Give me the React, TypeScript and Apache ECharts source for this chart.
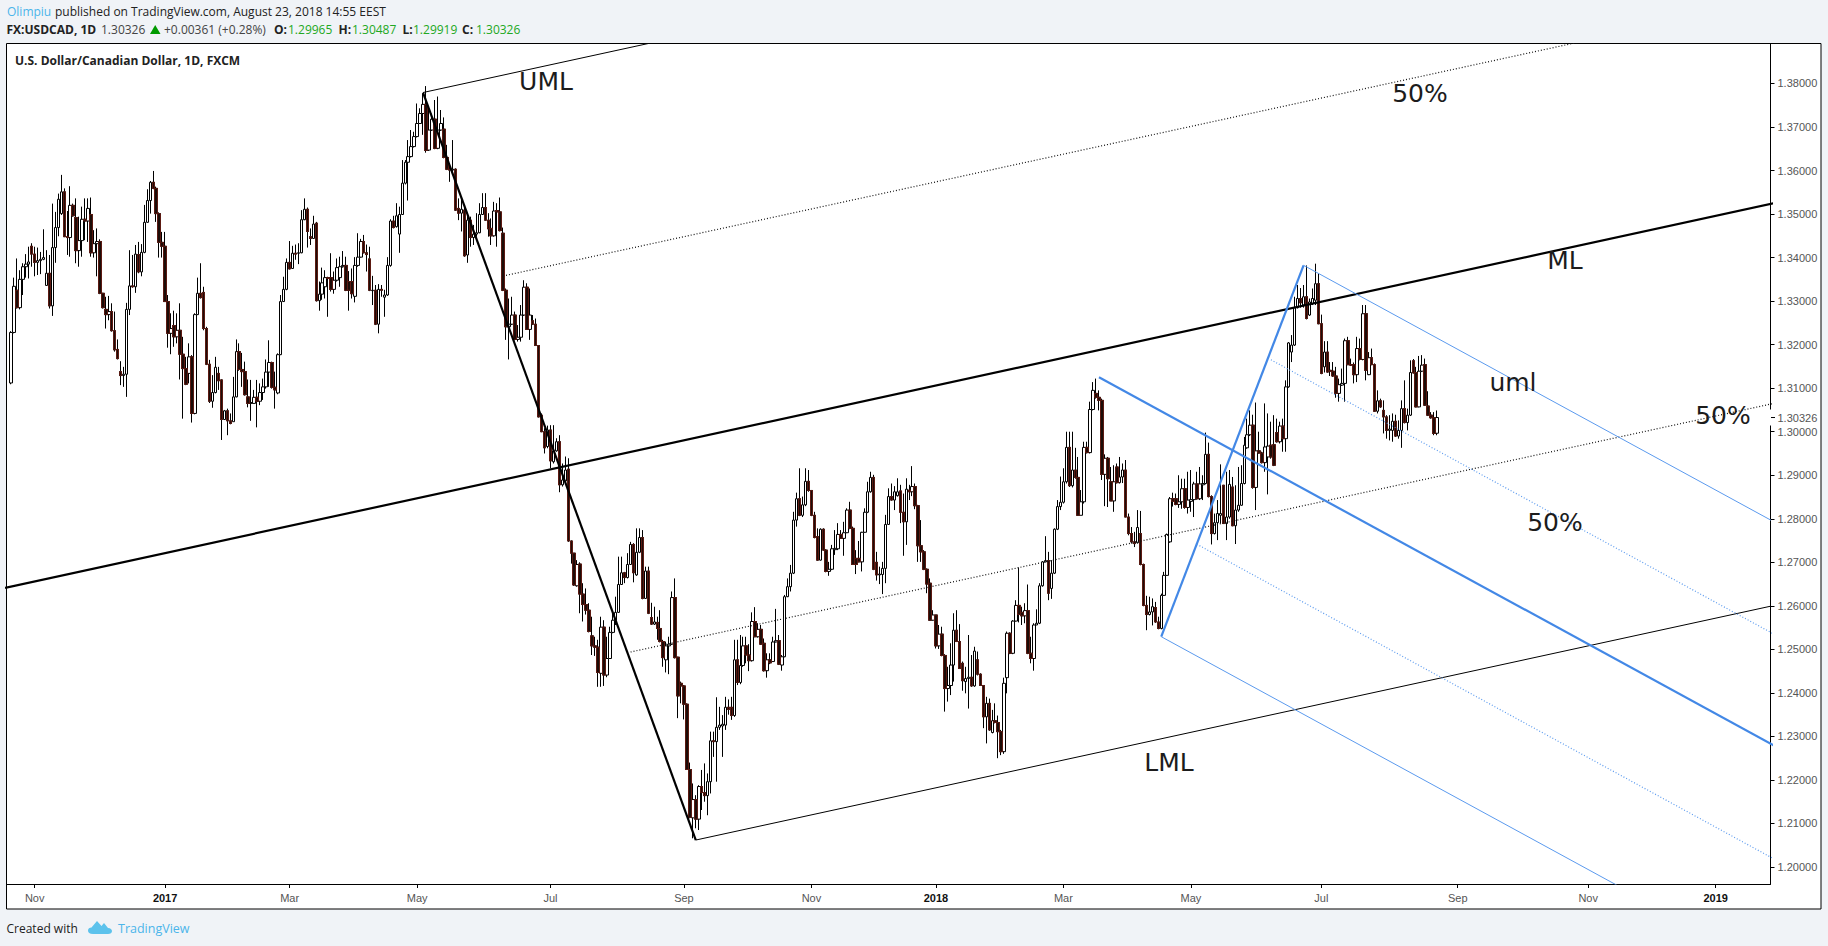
import React, { useEffect, useRef } from "react";
import * as echarts from "echarts";

// OHLC, in 1/10000 of a price unit: open, close, high, low per bar
const barsA = [
13112,13228,13231,13109,13228,13334,13354,13226,13325,13285,13398,13283,13285,13350,13371,13281,13350,13379,13387,13314,13379,13385,13408,13354,13385,13390,13425,13352,13426,13408,13433,13379,13408,13389,13425,13357,13389,13393,13423,13360,13393,13396,13413,13362,13396,13400,13465,13394,13336,13364,13417,13336,13364,13289,13406,13283,13289,13423,13524,13266,13423,13469,13505,13388,13469,13534,13547,13449,13501,13551,13590,13498,13551,13448,13559,13448,13448,13446,13507,13406,13446,13520,13564,13402,13520,13496,13524,13494,13492,13416,13536,13387,13416,13439,13494,13379,13439,13488,13517,13402,13488,13484,13536,13440,13484,13513,13536,13436,13499,13411,13538,13402,13411,13432,13463,13400,13432,13437,13467,13357,13437,13318,13442,13316,13318,13285,13319,13283,13281,13269,13310,13237,13269,13276,13312,13256,13276,13232,13295,13230,13232,13188,13276,13184,13189,13168,13212,13166,13138,13129,13162,13107,13129,13132,13149,13103,13132,13281,13296,13080,13281,13335,13417,13268,13335,13333,13406,13331,13333,13408,13429,13319,13407,13367,13436,13364,13367,13412,13431,13357,13412,13481,13521,13410,13481,13531,13557,13480,13531,13573,13576,13501,13573,13559,13599,13557,13559,13501,13563,13482,13501,13435,13504,13400,13435,13426,13459,13400,13426,13299,13459,13298,13299,13226,13314,13193,13226,13237,13272,13178,13244,13218,13278,13195,13218,13233,13272,13203,13233,13178,13295,13120,13178,13145,13218,13030,13145,13109,13172,13107,13134,13172,13203,13111,13172,13042,13176,13021,13042,13269,13272,13040,13269,13318,13354,13268,13318,13308,13387,13306,13320,13237,13333,13233,13237,13155,13241,13153,13155,13070,13165,13066,13070,13090,13130,13055,13090,13148,13172,13088,13134,13117,13149,13096,13119,13028,13120,12981,13028,13048,13050,13027,13048,13025,13053,12992,13025,13019,13042,13017,13023,13080,13126,13023,13080,13184,13212,13079,13184,13143,13203,13140,13143,13138,13181,13103,13138,13085,13161,13083,13080,13065,13120,13056,13065,13067,13119,13025,13065,13079,13096,13065,13079,13070,13119,13010,13070,13090,13111,13061,13090,13103,13122,13073,13103,13137,13166,13099,13137,13159,13210,13103,13159,13102,13161,13099,13102,13096,13138,13053,13089,13177,13180,13086,13177,13299,13314,13176,13299,13327,13356,13298,13327,13389,13398,13325,13389,13374,13438,13373,13375,13410,13427,13375,
13410,13408,13430,13395];
const barsB = [
13410,13411,13433,13385,13411,13487,13509,13410,13487,13511,13536,13486,13511,13460,13515,13423,13448,13444,13467,13429,13444,13477,13496,13443,13479,13301,13482,13299,13301,13316,13345,13278,13316,13342,13377,13303,13333,13354,13371,13306,13354,13352,13356,13264,13354,13327,13410,13322,13327,13348,13368,13317,13348,13377,13398,13345,13354,13379,13402,13333,13379,13382,13415,13377,13382,13325,13402,13323,13345,13325,13369,13278,13345,13317,13375,13306,13311,13382,13401,13297,13382,13401,13456,13379,13401,13437,13443,13400,13437,13411,13452,13410,13411,13407,13430,13368,13397,13325,13425,13323,13324,13325,13358,13291,13325,13247,13337,13245,13247,13327,13339,13226,13327,13325,13337,13310,13309,13314,13326,13264,13314,13382,13401,13312,13382,13484,13488,13379,13484,13469,13496,13467,13471,13496,13525,13469,13454,13499,13517,13411,13499,13571,13624,13498,13571,13619,13624,13568,13619,13632,13670,13531,13632,13655,13693,13630,13655,13678,13689,13653,13678,13708,13754,13676,13708,13731,13743,13707,13731,13752,13777,13682,13752,13646,13794,13641,13647,13693,13743,13645,13693,13718,13731,13691,13718,13651,13762,13649,13651,13693,13770,13649,13693,13708,13739,13691,13695,13630,13722,13628,13630,13603,13659,13601,13603,13601,13617,13574,13601,13603,13670,13597,13603,13509,13605,13507,13513,13502,13536,13486,13502,13511,13540,13460,13509,13404,13521,13402,13406,13486,13502,13388,13486,13446,13494,13425,13446,13454,13475,13429,13454,13457,13502,13448,13457,13499,13525,13456,13499,13515,13548,13498,13515,13486,13548,13485,13486,13466,13502,13448,13467,13450,13490,13429,13450,13507,13528,13448,13508,13505,13525,13425,13505,13462,13538,13460,13456,13325,13469,13323,13325,13241,13329,13211,13241,13247,13306,13166,13247,13268,13310,13245,13268,13212,13276,13210,13212,13217,13245,13207,13217,13268,13291,13207,13268,13332,13348,13266,13332,13235,13341,13234,13235,13268,13329,13211,13255,13247,13268,13245,13247,13198,13260,13197,13198,13034,13199,13033,13038,13000,13042,12999,13000,12963,13008,12950,12966,13004,13014,12962,13004,12933,13015,12916,12931,12956,13015,12927,12956,12977,12985,12954,12977,12878,12992,12861,12878,12889,12927,12874,12887,12912,12943,12885,12914,12749,12939,12747,12749,12721,12750,12697,12721,12648,12721,12646,12646,12695,12705,12644];
const barsC = [
12696,12627,12700,12583,12627,12603,12652,12564,12603,12590,12640,12580,12590,12541,12606,12539,12531,12508,12575,12487,12508,12505,12529,12485,12505,12447,12522,12414,12445,12551,12575,12414,12551,12441,12567,12416,12441,12479,12529,12436,12479,12539,12552,12478,12539,12567,12590,12537,12567,12585,12621,12556,12585,12649,12713,12584,12649,12676,12713,12648,12676,12665,12678,12652,12665,12695,12721,12663,12695,12741,12747,12694,12741,12676,12744,12654,12671,12723,12778,12669,12723,12757,12778,12721,12757,12617,12774,12615,12617,12680,12690,12616,12680,12583,12690,12581,12573,12558,12607,12556,12558,12563,12598,12556,12562,12548,12575,12522,12548,12518,12590,12516,12518,12481,12522,12460,12476,12508,12518,12447,12508,12512,12529,12443,12512,12619,12633,12510,12619,12481,12663,12479,12482,12393,12483,12342,12422,12416,12426,12376,12416,12374,12418,12339,12374,12224,12376,12223,12224,12114,12240,12112,12113,12155,12192,12066,12155,12110,12165,12089,12110,12185,12188,12085,12185,12171,12223,12131,12171,12164,12238,12150,12164,12196,12215,12119,12196,12290,12311,12169,12290,12288,12311,12253,12288,12321,12390,12196,12321,12326,12368,12315,12324,12328,12349,12253,12326,12367,12391,12315,
12367,12362,12385,12350,12367,12348,12391,12338,12348,12476,12522,12345,12476,12424,12522,12418,12424,12463,12533,12420,12463,12508,12529,12460,12508,12487,12529,12468,12487,12474,12512,12450,12474,12564,12585,12472,12564,12529,12597,12528,12529,12546,12560,12527,12546,12512,12556,12510,12514,12451,12525,12449,12451,12476,12491,12435,12476,12469,12491,12466,12472,12517,12529,12472,12517,12520,12593,12516,12520,12466,12533,12464,12464,12483,12487,12451,12483,12621,12625,12482,12621,12644,12663,12620,12644,12675,12694,12633,12675,12797,12816,12673,12797,12846,12860,12782,12846,12808,12916,12806,12808,12832,12851,12804,12832,12886,12916,12829,12886,12865,12912,12862,12865,12808,12866,12806,12808,12757,12816,12755,12759,12705,12778,12704,12705,12776,12778,12704,12776,12728,12778,12727,12728,12679,12730,12677,12679,12684,12701,12669,12684,12731,12740,12682,12729,12732,12774,12717,12731,12764,12790,12728,12764,12755,12774,12754,12755,12768,12793,12715,12768,12820,12824,12767,12820,12778,12839,12776,12778,12695,12782,12694,12709,12695,12728,12673,12709,12701,12749,12700,12701,12769,12770,12679,12769,12815,12824,12768,12815,12862,12885,12813,12862,12895,12908,12860,12895,12684,12901,12682,12700,12671,12724,12658,
12671,12673,12690,12650];
const barsD = [
12672,12686,12701,12627,12686,12787,12809,12652,12787,12851,12870,12786,12851,12843,12881,12842,12843,12862,12875,12820,12853,12862,12893,12851,12864,12815,12878,12790,12815,12793,12858,12715,12793,12868,12893,12740,12866,12862,12878,12843,12862,12874,12921,12852,12874,12830,12881,12822,12830,12738,12832,12701,12738,12724,12797,12701,12724,12684,12728,12682,12684,12650,12686,12629,12652,12567,12663,12566,12567,12579,12590,12566,12579,12508,12579,12502,12508,12535,12556,12501,12535,12486,12552,12484,12486,12410,12489,12357,12410,12417,12460,12380,12417,12464,12514,12395,12464,12544,12583,12426,12544,12518,12590,12517,12518,12456,12558,12455,12468,12428,12472,12405,12426,12433,12460,12399,12433,12436,12533,12364,12436,12416,12487,12414,12416,12496,12506,12414,12476,12443,12495,12440,12443,12417,12445,12416,12417,12345,12418,12319,12345,12376,12391,12284,12376,12315,12387,12313,12309,12336,12361,12307,12336,12332,12376,12330,12332,12311,12348,12250,12311,12265,12315,12257,12265,12422,12435,12260,12435,12537,12541,12399,12537,12491,12539,12489,12491,12565,12567,12489,12565,12601,12613,12564,12601,12580,12688,12562,12585,12577,12598,12556,12577,12589,12606,12560,12589,12491,12649,12489,12491,12479,12529,12468,12479,12556,12560,12451,12556,12560,12592,12556,12560,12646,12652,12558,12646,12701,12703,12644,12701,12704,12760,12700,12704,12629,12724,12613,12640,12675,12705,12616,12675,12776,12778,12673,12776,12828,12843,12774,12828,12838,12897,12820,12838,12885,12916,12835];
const barsE = [
12885,12964,13000,12881,12964,12876,13000,12873,12876,12912,13000,12872,12912,12895,12963,12892,12895,12808,12942,12807,12808,12839,12866,12808,12839,12964,12977,12835,12964,12952,12977,12950,12952,13051,13069,12950,13051,13095,13114,13049,13088,13079,13122,13076,13079,13072,13095,13049,13072,12902,13076,12889,12902,12939,12948,12829,12939,12892,12942,12827,12885,12841,12919,12841,12841,12885,12923,12816,12919,12883,12927,12881,12883,12896,12942,12881,12896,12912,12927,12882,12912,12804,12935,12804,12804,12766,12812,12762,12766,12747,12781,12743,12747,12743,12770,12735,12745,12780,12820,12743,12766,12695,12818,12693,12695,12601,12697,12599,12601,12580,12623,12544,12580,12586,12621,12578,12586,12598,12617,12555,12596,12563,12609,12561,12563,12548,12575,12546,12548,12624,12628,12546,12624,12670,12678,12623,12670,12764,12766,12669,12747,12846,12850,12745,
12846,12840,12860,12828];
const barsF = [
12846,12833,12858,12831,12833,12839,12900,12825,12839,12869,12892,12823,12869,12826,12892,12823,12826,12843,12908,12812,12840,12844,12912,12816,12844,12880,12885,12804,12880,12846,12908,12844,12846,12880,12919,12843,12878,12881,12900,12843,12881,12948,12998,12879,12948,12851,12975,12849,12851,12766,12854,12741,12766,12791,12812,12764,12791,12812,12843,12751,12808,12812,12925,12789,12877,12789,12877,12788,12789,12804,12908,12751,12804,12879,12912,12800,12873,12784,12896,12783,12784,12820,12877,12742,12820,12831,12919,12816,12831,12881,12923,12830,12881,12969,12988,12879,12963,12993,13030,12961,12993,13015,13049,12990,13015,12872,13039,12869,12872,12956,13067,12820,12956,12951,13000,12950,12951,12929,12954,12927,12929,12965,13065,12908,12942,12967,13042,12856,12969,12942,13023,12938,12970,12923,13038,12921,12998,12977,13030,12975,12977,13013,13023,12973,13013,12984,13030,12954,12984,13103,13118,12954,13103,13204,13206,13101,13183,13199,13222,13160,13199,13285,13310,13197,13285,13306,13337,13283,
13306,13296,13330,13285];
const barsG = [
13291,13310,13337,13285,13310,13260,13382,13258,13268,13298,13306,13266,13294,13306,13329,13291,13302,13340,13386,13291,13340,13248,13363,13247,13248,13134,13269,13132,13149,13183,13208,13136,13183,13137,13208,13136,13141,13139,13160,13128,13139,13128,13160,13126,13128,13088,13149,13078,13088,13108,13122,13069,13107,13111,13145,13105,13111,13209,13214,13069,13209,13154,13218,13153,13154,13153,13168,13151,13154,13131,13159,13111,13131,13191,13218,13114,13191,13166,13214,13164,13166,13271,13291,13164,13271,13141,13291,13118,13131,13170,13183,13130,13170,13154,13191,13153,13154,13047,13157,13046,13047,13071,13095,13042,13071,13057,13076,13055,13049,13034,13072,12996,13034,13003,13038,12984,13003,13006,13038,12980,13003,13024,13042,12977,13024,12990,13039,12988,12990,13003,13026,12984,13003,13053,13072,12963,13053,13021,13118,13019,13021,13038,13053,13003,13038,13136,13164,13036,13163,13135,13167,13134,13136,13057,13149,13056,13057,13139,13174,13056,13139,13153,13176,13137,13154,13061,13168,13059,13059,13038,13093,13036,13038,13032,13045,13030,13032,12996,13045,12992,12996.5,13032.6,13048.7,12991.9];

const slotCount = 595;
const firstBarSlot = 1;
const tickSlots = [9, 53, 95, 138, 183, 228, 271, 313, 356, 399, 443, 489, 533, 576];
const tickTexts = ["Nov", "2017", "Mar", "May", "Jul", "Sep", "Nov", "2018", "Mar", "May", "Jul", "Sep", "Nov", "2019"];
const priceTicks = [1.2, 1.21, 1.22, 1.23, 1.24, 1.25, 1.26, 1.27, 1.28, 1.29, 1.3, 1.31, 1.32, 1.33, 1.34, 1.35, 1.36, 1.37, 1.38];
const lastClose = 1.30326;
const priceMin = 1.1961;
const priceMax = 1.38918;

// drawing anchors: [bar slot, price]
const handleBlack = [[140, 1.37792], [232, 1.2062]];
const medianBlack = [[-1, 1.26412], [597, 1.3527]];
const upperBlack = [[140, 1.37792], [240, 1.39274]];
const lowerBlack = [[232, 1.2062], [597, 1.26028]];
const upperHalfBlack = [[167, 1.33577], [545, 1.39175]];
const lowerHalfBlack = [[210, 1.24939], [597, 1.30671]];
const handleBlue = [[437, 1.33823], [389, 1.25291]];
const medianBlue = [[368, 1.3125], [597, 1.22743]];
const upperBlue = [[437, 1.33823], [597, 1.2788]];
const lowerBlue = [[389, 1.25291], [597, 1.17565]];
const upperHalfBlue = [[426, 1.31652], [597, 1.253]];
const lowerHalfBlue = [[401, 1.27416], [597, 1.20136]];

const logoPath =
  "M5 14 C1.5 14 0 12.5 0 10.5 C0 8.5 1.5 7.5 3.5 7.5 L9 1 L13.5 6 L16 3 L20 8 C22.5 8 24 9.5 24 11 C24 12.8 22.5 14 20 14 Z";

const uiFont = '"Open Sans", sans-serif';
const axisFont = '"Liberation Sans", Arial, sans-serif';
const noteFont = '"DejaVu Sans", sans-serif';

function toRows(flat: number[]) {
  const rows: number[][] = [];
  for (let k = 0; k < flat.length; k += 4) {
    rows.push([flat[k] / 10000, flat[k + 1] / 10000, flat[k + 3] / 10000, flat[k + 2] / 10000]);
  }
  return rows;
}

function lineSeries(data: number[][], color: string, width: number, type: any = "solid") {
  return {
    type: "line",
    data,
    symbol: "none",
    silent: true,
    z: 5,
    lineStyle: { color, width, type, cap: "butt" },
  };
}

export default function App() {
  const ref = useRef<HTMLDivElement>(null);
  useEffect(() => {
    document.body.style.margin = "0";
    const chart = echarts.init(ref.current!, undefined, { renderer: "svg", width: 1828, height: 946 });

    const rows = toRows([...barsA, ...barsB, ...barsC, ...barsD, ...barsE, ...barsF, ...barsG]);
    const candles: any[] = new Array(slotCount).fill("-");
    const downBodies: any[] = new Array(slotCount).fill("-");
    rows.forEach((r, k) => {
      const at = firstBarSlot + k;
      if (at >= slotCount) return;
      candles[at] = r;
      if (r[1] < r[0]) downBodies[at] = [r[0], r[1], r[1], r[0]];
    });

    const categories = new Array(slotCount).fill("").map((_, k) => {
      const t = tickSlots.indexOf(k);
      return t >= 0 ? tickTexts[t] : "";
    });
    const isTick = (k: number) => tickSlots.indexOf(k) >= 0;

    const note = (text: string, x: number, y: number) => ({
      type: "text",
      x,
      y,
      z: 50,
      style: { text, fill: "#1c1c1c", font: `25px ${noteFont}`, align: "center", verticalAlign: "middle" },
    });
    const head = (text: string, x: number, y: number, fill: string, bold = false) => ({
      type: "text",
      x,
      y,
      z: 50,
      style: { text, fill, font: `${bold ? "bold " : ""}12px ${uiFont}`, verticalAlign: "middle" },
    });

    const staticGraphics: any[] = [
      { type: "rect", z: -10, shape: { x: 6.5, y: 43.5, width: 1814.5, height: 865.5 }, style: { fill: "#ffffff", stroke: "#000000", lineWidth: 1 } },
      head("Olimpiu", 7, 11.5, "#4bb5ea"),
      head("published on TradingView.com, August 23, 2018 14:55 EEST", 55, 11.5, "#222222"),
      head("FX:USDCAD, 1D", 6.5, 29.5, "#222222", true),
      head("1.30326", 101, 29.5, "#444444"),
      { type: "polygon", z: 50, shape: { points: [[150, 34], [160.5, 34], [155.2, 25]] }, style: { fill: "#009a00" } },
      head("+0.00361 (+0.28%)", 164, 29.5, "#444444"),
      head("O:", 274, 29.5, "#222222", true),
      head("1.29965", 288, 29.5, "#22a822"),
      head("H:", 338.5, 29.5, "#222222", true),
      head("1.30487", 352, 29.5, "#22a822"),
      head("L:", 402.5, 29.5, "#222222", true),
      head("1.29919", 413, 29.5, "#22a822"),
      head("C:", 462, 29.5, "#222222", true),
      head("1.30326", 476, 29.5, "#22a822"),
      head("U.S. Dollar/Canadian Dollar, 1D, FXCM", 15, 60, "#222222", true),
      note("UML", 546, 81),
      note("50%", 1420, 93),
      note("ML", 1565, 260),
      note("uml", 1513, 382),
      note("50%", 1723, 415),
      note("50%", 1555, 522),
      note("LML", 1169, 762),
      { type: "text", x: 6.5, y: 928, z: 50, style: { text: "Created with", fill: "#222222", font: `12px ${uiFont}`, verticalAlign: "middle" } },
      { type: "tvlogo", x: 88, y: 920, z: 50, scaleX: 1, scaleY: 1, style: { fill: "#5cc2ec" } },
      { type: "text", x: 118, y: 928, z: 50, style: { text: "TradingView", fill: "#4bb5ea", font: `12.5px ${uiFont}`, verticalAlign: "middle" } },
    ];

    echarts.graphic.registerShape("tvlogo", echarts.graphic.extendPath(logoPath, {}) as any);

    chart.setOption({
      animation: false,
      backgroundColor: "#f0f3f7",
      grid: { left: 6.5, right: 57.5, top: 43.5, bottom: 62, show: false },
      xAxis: {
        type: "category",
        data: categories,
        boundaryGap: true,
        axisLine: { show: true, onZero: false, lineStyle: { color: "#000", width: 1 } },
        axisTick: { show: true, length: 4, alignWithLabel: true, interval: (k: number) => isTick(k), lineStyle: { color: "#000" } },
        axisLabel: {
          show: true,
          interval: (k: number) => isTick(k),
          margin: 8,
          fontFamily: axisFont,
          fontSize: 11,
          color: "#555",
          formatter: (v: string) => (/^\d/.test(v) ? `{y|${v}}` : v),
          rich: { y: { fontFamily: axisFont, fontSize: 11, fontWeight: "bold", color: "#111" } },
        },
        splitLine: { show: false },
      },
      yAxis: {
        type: "value",
        position: "right",
        min: priceMin,
        max: priceMax,
        scale: true,
        axisLine: { show: true, onZero: false, lineStyle: { color: "#000", width: 1 } },
        axisTick: { show: true, length: 4, customValues: priceTicks, lineStyle: { color: "#000" } },
        axisLabel: {
          show: true,
          margin: 7,
          fontFamily: axisFont,
          fontSize: 11,
          color: "#555",
          customValues: [...priceTicks, lastClose],
          formatter: (v: number) => v.toFixed(5),
        },
        splitLine: { show: false },
      },
      series: [
        {
          type: "candlestick",
          data: candles,
          barWidth: 3,
          silent: true,
          z: 2,
          itemStyle: { color: "#ffffff", color0: "#000000", borderColor: "#000000", borderColor0: "#000000", borderWidth: 1 },
        },
        {
          type: "candlestick",
          data: downBodies,
          barWidth: 3,
          silent: true,
          z: 3,
          itemStyle: { color: "#1c0c08", color0: "#1c0c08", borderColor: "#5c1a12", borderColor0: "#5c1a12", borderWidth: 1 },
        },
        lineSeries(handleBlack, "#000000", 2.2),
        lineSeries(medianBlack, "#000000", 2.2),
        lineSeries(upperBlack, "#000000", 1),
        lineSeries(lowerBlack, "#000000", 1),
        lineSeries(upperHalfBlack, "#111111", 1.2, [1, 2]),
        lineSeries(lowerHalfBlack, "#111111", 1.2, [1, 2]),
        lineSeries(handleBlue, "#4388e6", 2.2),
        lineSeries(medianBlue, "#4388e6", 2.2),
        lineSeries(upperBlue, "#5b9aee", 1),
        lineSeries(lowerBlue, "#5b9aee", 1),
        lineSeries(upperHalfBlue, "#5b9aee", 1.2, [1, 2]),
        lineSeries(lowerHalfBlue, "#5b9aee", 1.2, [1, 2]),
      ],
      graphic: { elements: staticGraphics },
    });

    const tagY = chart.convertToPixel({ yAxisIndex: 0 }, lastClose) as number;
    chart.setOption({
      graphic: {
        elements: [
          ...staticGraphics,
          { type: "rect", z: 40, shape: { x: 1770, y: tagY - 8, width: 2, height: 16 }, style: { fill: "#ffffff" } },
          { type: "line", z: 41, shape: { x1: 1771, y1: tagY, x2: 1775, y2: tagY }, style: { stroke: "#000000", lineWidth: 1 } },
        ],
      },
    });

    return () => chart.dispose();
  }, []);
  return (
    <div style={{ position: "absolute", left: 0, top: 0, width: 1828, height: 946, overflow: "hidden" }}>
      <div ref={ref} style={{ width: 1828, height: 946 }} />
    </div>
  );
}
